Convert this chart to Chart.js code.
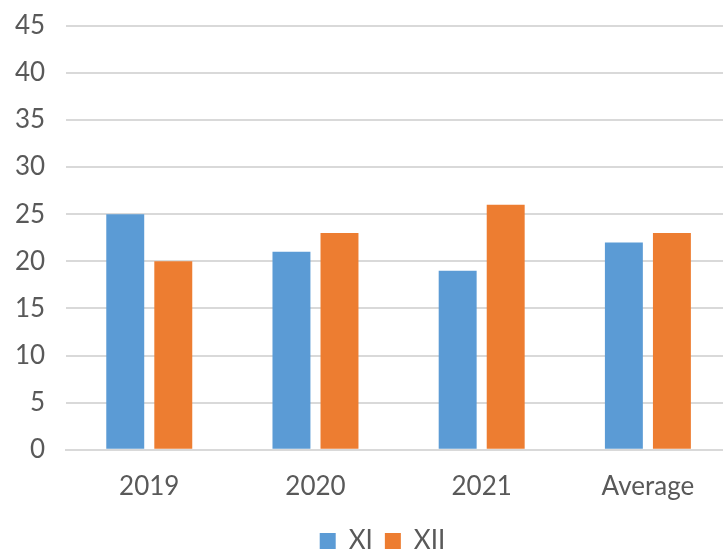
<!DOCTYPE html>
<html>
<head>
<meta charset="utf-8">
<script src="https://cdn.jsdelivr.net/npm/chart.js@4/dist/chart.umd.min.js"></script>
<style>
  html, body { margin: 0; padding: 0; background: #fff; overflow: hidden; }
  #wrap { position: relative; width: 731px; height: 582px; margin-top: -11px; }
</style>
</head>
<body>
<div id="wrap"><canvas id="chart"></canvas></div>
<script>
// chart values
var categories = ['2019', '2020', '2021', 'Average'];
var seriesNames = ['XI', 'XII'];
var xiValues = [25, 21, 19, 22];
var xiiValues = [20, 23, 26, 23];
var yTicks = [0, 5, 10, 15, 20, 25, 30, 35, 40, 45];

var textColor = '#595959';
var gridColor = '#d9d9d9';
var fontFamily = 'Lato, "Open Sans", "Liberation Sans", sans-serif';

// nudge the legend a little, like the original
var legendShift = {
  id: 'legendShift',
  afterLayout: function (chart) {
    var lg = chart.legend;
    if (!lg) return;
    lg.left += 20;
    lg.right += 20;
    lg.top -= 7;
    lg.bottom -= 7;
  }
};

var ctx = document.getElementById('chart').getContext('2d');
var chart = new Chart(ctx, {
  type: 'bar',
  data: {
    labels: categories,
    datasets: [
      { label: seriesNames[0], data: xiValues, backgroundColor: '#5b9bd5', categoryPercentage: 0.578, barPercentage: 0.79 },
      { label: seriesNames[1], data: xiiValues, backgroundColor: '#ed7d31', categoryPercentage: 0.578, barPercentage: 0.79 }
    ]
  },
  plugins: [legendShift],
  options: {
    responsive: true,
    maintainAspectRatio: false,
    animation: false,
    layout: { padding: { left: -6, right: 0, top: 0, bottom: 0 } },
    plugins: {
      tooltip: { enabled: false },
      legend: {
        position: 'bottom',
        labels: {
          color: textColor,
          font: { family: fontFamily, size: 26 },
          boxWidth: 16,
          boxHeight: 16,
          padding: 12
        }
      }
    },
    scales: {
      x: {
        grid: { display: false, drawTicks: false },
        border: { display: true, color: gridColor, width: 2 },
        ticks: { color: textColor, font: { family: fontFamily, size: 26 }, padding: 21 }
      },
      y: {
        min: 0,
        max: 45,
        afterBuildTicks: function (axis) {
          axis.ticks = yTicks.map(function (v) { return { value: v }; });
        },
        grid: { color: gridColor, lineWidth: 2, drawTicks: false },
        border: { display: false },
        ticks: { color: textColor, font: { family: fontFamily, size: 26 }, padding: 21 }
      }
    }
  }
});
</script>
</body>
</html>
